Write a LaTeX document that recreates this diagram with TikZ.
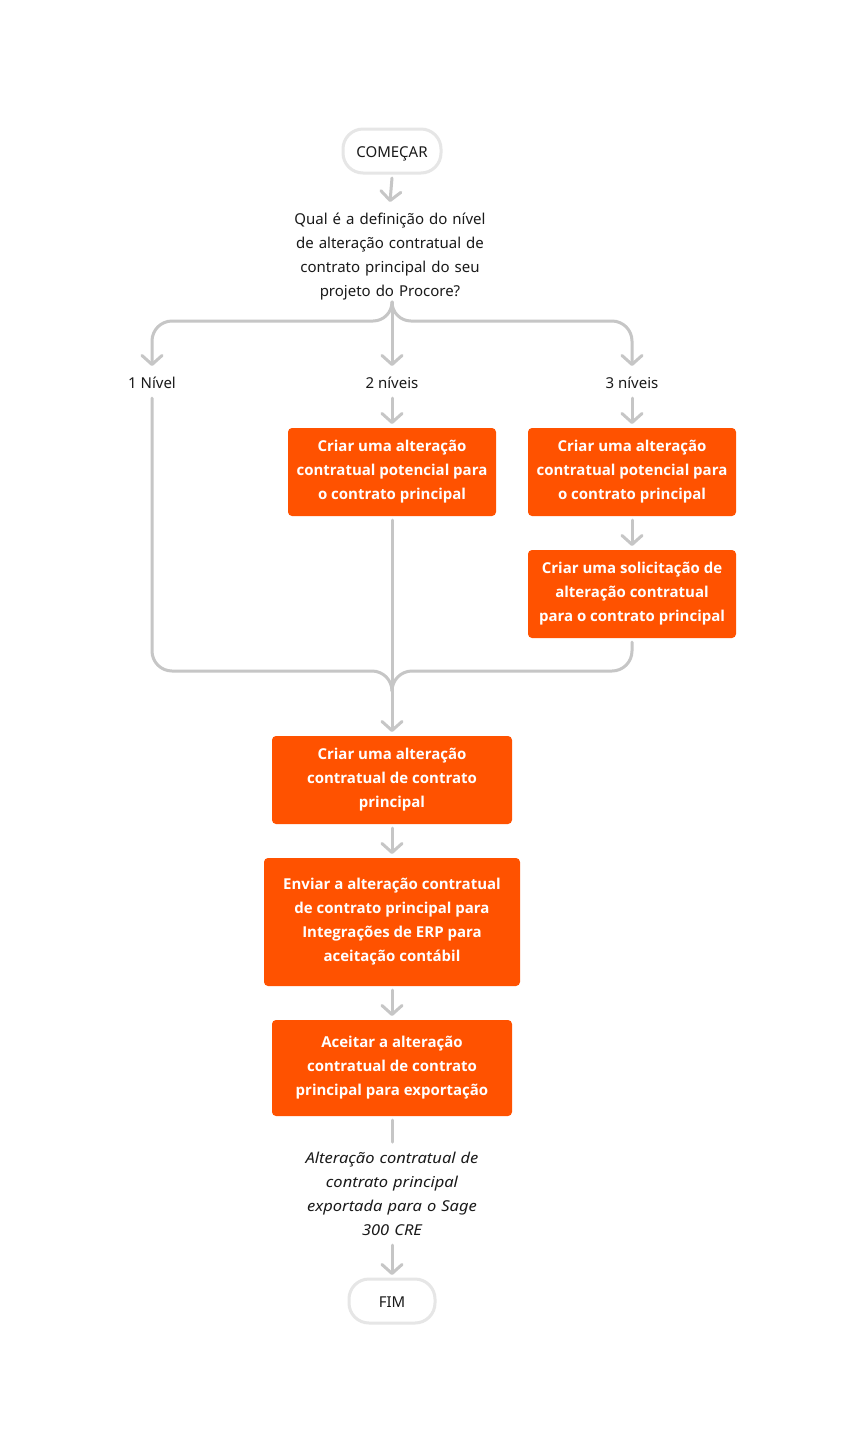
\documentclass[tikz,border=0pt]{standalone}
\usepackage{fontspec}
\setmainfont{Noto Sans}
\newfontfamily\boxfont{Open Sans}
\usetikzlibrary{arrows.meta}
\definecolor{proc}{HTML}{FF5200}
\definecolor{ln}{HTML}{C6C6C6}
\definecolor{bd}{HTML}{E6E6E6}
\definecolor{txt}{HTML}{1A1A1A}
\newcommand{\topstrut}[1]{\rule{0pt}{#1}}
\newcommand{\botstrut}{\rule[-5pt]{0pt}{5pt}}
\begin{document}
\begin{tikzpicture}[x=1pt,y=-1pt,
  every node/.style={inner sep=0pt,outer sep=0pt},
  struts/.style={execute at begin node=\topstrut{#1},execute at end node=\botstrut},
  line/.style={draw=ln,line width=3pt,line cap=round,line join=round},
  arr/.style={line,-{Straight Barb[length=9pt,width=20pt,round]}},
  term/.style={struts=18pt,draw=bd,line width=3pt,fill=white,rounded corners=20pt,minimum height=44pt,text=txt,font=\fontsize{15}{24}\selectfont},
  plain/.style={struts=18pt,text=txt,align=center,font=\fontsize{15}{24}\selectfont},
  stepbox/.style={struts=22pt,fill=proc,rounded corners=4pt,text=white,align=center,font=\boxfont\fontsize{15}{24}\selectfont\bfseries}
]
\fill[white] (0,0) rectangle (864,1452);
\useasboundingbox (0,0) rectangle (864,1452);

\node[term,minimum width=98pt] (start) at (392,151) {COMEÇAR};
\node[plain,text width=230pt,minimum height=96pt] (q) at (390,254) {Qual é a definição do nível\\de alteração contratual de\\contrato principal do seu\\projeto do Procore?};

\node[plain,minimum height=24pt] (l1) at (152,382) {1 Nível};
\node[plain,minimum height=24pt] (l2) at (392,382) {2 níveis};
\node[plain,minimum height=24pt] (l3) at (632,382) {3 níveis};

\node[stepbox,minimum width=208pt,minimum height=88pt] (a2) at (392,472) {Criar uma alteração\\contratual potencial para\\o contrato principal};
\node[stepbox,minimum width=208pt,minimum height=88pt] (a3) at (632,472) {Criar uma alteração\\contratual potencial para\\o contrato principal};
\node[stepbox,minimum width=208pt,minimum height=88pt] (b3) at (632,594) {Criar uma solicitação de\\alteração contratual\\para o contrato principal};
\node[stepbox,minimum width=240pt,minimum height=88pt] (c) at (392,780) {Criar uma alteração\\contratual de contrato\\principal};
\node[stepbox,minimum width=256pt,minimum height=128pt] (d) at (392,922) {Enviar a alteração contratual\\de contrato principal para\\Integrações de ERP para\\aceitação contábil};
\node[stepbox,minimum width=240pt,minimum height=96pt] (e) at (392,1068) {Aceitar a alteração\\contratual de contrato\\principal para exportação};
\node[plain,text width=230pt,minimum height=96pt,font=\fontsize{15}{24}\selectfont\itshape\addfontfeatures{FakeStretch=1.1}] (exp) at (392,1193) {Alteração contratual de\\contrato principal\\exportada para o Sage\\300 CRE};
\node[term,minimum width=86pt] (fim) at (392,1301) {FIM};

% connectors
\draw[arr] ([yshift=-5pt]start.south) -- ([yshift=4pt]q.north);
\draw[arr] ([xshift=2pt]q.south) -- ([yshift=4pt]l2.north);
\draw[arr] ([xshift=2pt]q.south) .. controls (392,312.5) and (383.5,321) .. (373,321) -- (172,321) .. controls (161,321) and (152,330) .. (152,341) -- ([yshift=4pt]l1.north);
\draw[arr] ([xshift=2pt]q.south) .. controls (392,312.5) and (400.5,321) .. (411,321) -- (612,321) .. controls (623,321) and (632,330) .. (632,341) -- ([yshift=4pt]l3.north);
\draw[arr] ([yshift=-4pt]l2.south) -- ([yshift=4pt]a2.north);
\draw[arr] ([yshift=-4pt]l3.south) -- ([yshift=4pt]a3.north);
\draw[arr] ([yshift=-4pt]a3.south) -- ([yshift=4pt]b3.north);

\draw[line] ([yshift=-4pt]l1.south) -- (152,651) .. controls (152,662) and (161,671) .. (172,671) -- (372,671) .. controls (383,671) and (392,680) .. (392,691);
\draw[line] ([yshift=-4pt]b3.south) -- (632,651) .. controls (632,662) and (623,671) .. (612,671) -- (412,671) .. controls (401,671) and (392,680) .. (392,691);
\draw[arr] ([yshift=-4pt]a2.south) -- ([yshift=4pt]c.north);

\draw[arr] ([yshift=-4pt]c.south) -- ([yshift=4pt]d.north);
\draw[arr] ([yshift=-4pt]d.south) -- ([yshift=4pt]e.north);
\draw[line] ([yshift=-4pt]e.south) -- ([yshift=3pt]exp.north);
\draw[arr] ([yshift=-4pt]exp.south) -- ([yshift=4pt]fim.north);
\end{tikzpicture}
\end{document}
